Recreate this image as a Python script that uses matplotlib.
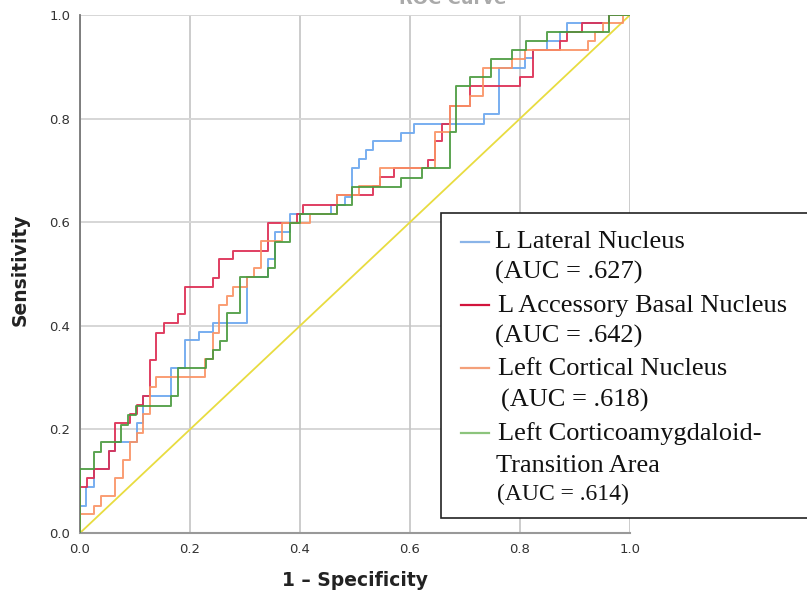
import matplotlib.pyplot as plt
from matplotlib.lines import Line2D
from matplotlib.patches import Rectangle

# ROC curves: (fpr, tpr) at each step corner, steps-post
lat_fpr = [0, 0, 0.011, 0.026, 0.052, 0.064, 0.103, 0.115, 0.165, 0.190, 0.216, 0.242,
           0.304, 0.342, 0.355, 0.381, 0.456, 0.482, 0.494, 0.507, 0.520, 0.532, 0.583,
           0.607, 0.735, 0.761, 0.809, 0.824, 0.849, 0.873, 0.885, 0.962, 1.0]
lat_tpr = [0, 0.053, 0.088, 0.124, 0.159, 0.176, 0.213, 0.265, 0.318, 0.372, 0.388, 0.405,
           0.494, 0.528, 0.582, 0.616, 0.633, 0.649, 0.704, 0.722, 0.739, 0.756, 0.773,
           0.790, 0.808, 0.897, 0.917, 0.933, 0.950, 0.967, 0.985, 1.0, 1.0]

acc_fpr = [0, 0, 0.013, 0.026, 0.052, 0.064, 0.090, 0.103, 0.115, 0.127, 0.139, 0.153,
           0.179, 0.191, 0.241, 0.253, 0.279, 0.342, 0.394, 0.406, 0.467, 0.532, 0.545,
           0.570, 0.633, 0.645, 0.659, 0.672, 0.709, 0.800, 0.824, 0.873, 0.886, 0.912,
           0.962, 1.0]
acc_tpr = [0, 0.088, 0.106, 0.124, 0.159, 0.212, 0.230, 0.248, 0.265, 0.334, 0.387, 0.405,
           0.423, 0.474, 0.493, 0.528, 0.545, 0.598, 0.616, 0.633, 0.652, 0.670, 0.688,
           0.704, 0.721, 0.756, 0.790, 0.825, 0.862, 0.880, 0.932, 0.950, 0.967, 0.985,
           1.0, 1.0]

cor_fpr = [0, 0, 0.026, 0.038, 0.064, 0.078, 0.090, 0.103, 0.115, 0.127, 0.139, 0.227,
           0.241, 0.253, 0.267, 0.279, 0.303, 0.316, 0.329, 0.367, 0.418, 0.468, 0.507,
           0.545, 0.645, 0.672, 0.709, 0.733, 0.785, 0.809, 0.924, 0.936, 0.950, 0.987, 1.0]
cor_tpr = [0, 0.036, 0.053, 0.071, 0.106, 0.141, 0.176, 0.194, 0.230, 0.281, 0.301, 0.335,
           0.387, 0.440, 0.458, 0.475, 0.494, 0.511, 0.564, 0.599, 0.616, 0.652, 0.670,
           0.704, 0.775, 0.825, 0.844, 0.897, 0.915, 0.932, 0.950, 0.967, 0.985, 1.0, 1.0]

cat_fpr = [0, 0, 0.025, 0.038, 0.075, 0.087, 0.101, 0.166, 0.178, 0.229, 0.242, 0.255,
           0.267, 0.291, 0.341, 0.355, 0.381, 0.400, 0.468, 0.494, 0.583, 0.621, 0.672,
           0.684, 0.709, 0.747, 0.785, 0.810, 0.849, 0.962, 1.0]
cat_tpr = [0, 0.123, 0.157, 0.175, 0.208, 0.228, 0.246, 0.265, 0.318, 0.335, 0.353, 0.371,
           0.424, 0.494, 0.511, 0.562, 0.598, 0.615, 0.633, 0.668, 0.686, 0.704, 0.775,
           0.862, 0.880, 0.915, 0.932, 0.950, 0.967, 1.0, 1.0]

ticks = [0.0, 0.2, 0.4, 0.6, 0.8, 1.0]

fig = plt.figure(figsize=(8.07, 5.96), dpi=100)
ax = fig.add_axes([80 / 807, 1 - 533 / 596, 550 / 807, 518 / 596])

for t in ticks:
    ax.axvline(t, color='#c4c4c4', lw=1.2, zorder=0)
    ax.axhline(t, color='#d6d6d6', lw=1.4, zorder=0)

ax.plot([0, 1], [0, 1], color='#e8dc40', lw=1.3, zorder=2)
ax.step(lat_fpr, lat_tpr, where='post', color='#6aa6ee', lw=1.4, alpha=0.9, zorder=3)
ax.step(acc_fpr, acc_tpr, where='post', color='#dc2a50', lw=1.4, alpha=0.9, zorder=3)
ax.step(cor_fpr, cor_tpr, where='post', color='#fa9264', lw=1.4, alpha=0.9, zorder=3)
ax.step(cat_fpr, cat_tpr, where='post', color='#4a9a3e', lw=1.4, alpha=0.9, zorder=3)

ax.set_xlim(0, 1)
ax.set_ylim(0, 1)
ax.set_xticks(ticks)
ax.set_yticks(ticks)
ax.set_xticklabels(['%.1f' % t for t in ticks])
ax.set_yticklabels(['%.1f' % t for t in ticks])
ax.tick_params(length=0, labelsize=9.5, labelcolor='#333333', pad=7)
ax.spines['top'].set_visible(False)
ax.spines['right'].set_visible(False)
ax.spines['left'].set_color('#777777')
ax.spines['left'].set_linewidth(1.3)
ax.spines['bottom'].set_color('#999999')
ax.spines['bottom'].set_linewidth(1.5)

fig.text(355 / 807, 1 - 581 / 596, '1 \u2013 Specificity', ha='center', va='center',
         fontsize=13.5, fontweight='bold', color='#222222')
fig.text(20 / 807, 1 - 270 / 596, 'Sensitivity', ha='center', va='center', rotation=90,
         fontsize=13.5, fontweight='bold', color='#222222')
fig.text(453 / 807, 1 - 4 / 596, 'ROC Curve', ha='center', va='baseline',
         fontsize=13, fontweight='bold', color='#aaaaaa')

# hand-drawn legend box (clipped at the right edge like the source)
fig.patches.append(Rectangle((441 / 807, 1 - 518 / 596), 400 / 807, 305 / 596,
                             transform=fig.transFigure, facecolor='white',
                             edgecolor='#222222', lw=1.2, zorder=5))

serif = 'Liberation Serif'
entries = [
    ('#8ab4e8', 241.7, [(495, 248, 'L Lateral Nucleus', 19), (495, 279, '(AUC = .627)', 19)]),
    ('#d2143c', 305, [(498, 312, 'L Accessory Basal Nucleus', 19), (495, 343, '(AUC = .642)', 19)]),
    ('#f4a07a', 368.3, [(498, 375, 'Left Cortical Nucleus', 19), (501, 407, '(AUC = .618)', 19)]),
    ('#8cc47c', 433.3, [(498, 440, 'Left Corticoamygdaloid-', 19), (496, 472, 'Transition Area', 19),
                        (497, 500, '(AUC = .614)', 17)]),
]
for color, ly, texts in entries:
    fig.lines.append(Line2D([461 / 807, 489 / 807], [1 - ly / 596, 1 - ly / 596],
                            transform=fig.transFigure, color=color, lw=1.6, zorder=6))
    for x, y, s, fs in texts:
        fig.text(x / 807, 1 - y / 596, s, ha='left', va='baseline', fontsize=fs,
                 family=serif, color='#111111', zorder=6)

fig.savefig('out.png', dpi=100)
